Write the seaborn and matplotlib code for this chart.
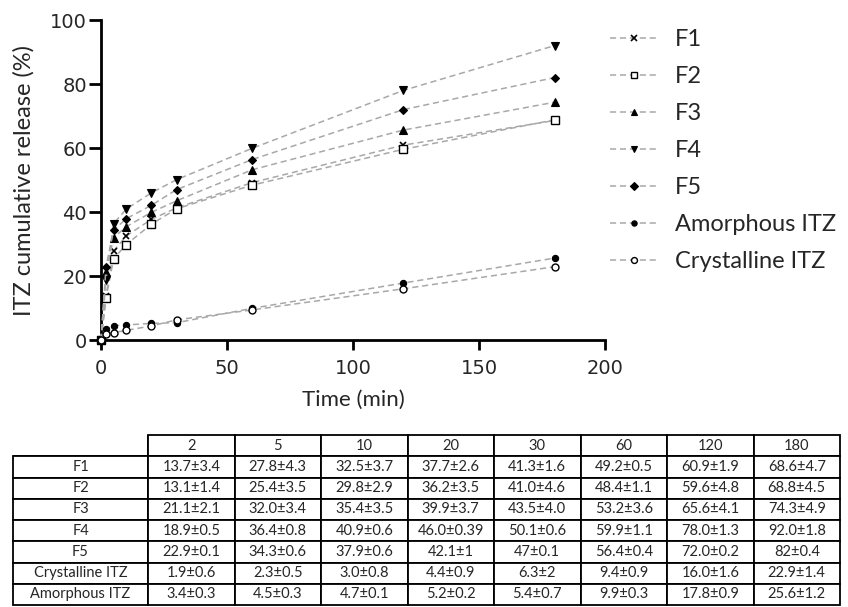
import matplotlib
matplotlib.use("Agg")
import matplotlib.pyplot as plt
import seaborn as sns
import pandas as pd
from matplotlib.lines import Line2D

# ---------------- data ----------------
times = [2, 5, 10, 20, 30, 60, 120, 180]
start_time = 0
start_release = 0.0

series_names = ["F1", "F2", "F3", "F4", "F5", "Amorphous ITZ", "Crystalline ITZ"]

F1_mean = ["13.7", "27.8", "32.5", "37.7", "41.3", "49.2", "60.9", "68.6"]
F1_sd = ["3.4", "4.3", "3.7", "2.6", "1.6", "0.5", "1.9", "4.7"]
F2_mean = ["13.1", "25.4", "29.8", "36.2", "41.0", "48.4", "59.6", "68.8"]
F2_sd = ["1.4", "3.5", "2.9", "3.5", "4.6", "1.1", "4.8", "4.5"]
F3_mean = ["21.1", "32.0", "35.4", "39.9", "43.5", "53.2", "65.6", "74.3"]
F3_sd = ["2.1", "3.4", "3.5", "3.7", "4.0", "3.6", "4.1", "4.9"]
F4_mean = ["18.9", "36.4", "40.9", "46.0", "50.1", "59.9", "78.0", "92.0"]
F4_sd = ["0.5", "0.8", "0.6", "0.39", "0.6", "1.1", "1.3", "1.8"]
F5_mean = ["22.9", "34.3", "37.9", "42.1", "47", "56.4", "72.0", "82"]
F5_sd = ["0.1", "0.6", "0.6", "1", "0.1", "0.4", "0.2", "0.4"]
Cry_mean = ["1.9", "2.3", "3.0", "4.4", "6.3", "9.4", "16.0", "22.9"]
Cry_sd = ["0.6", "0.5", "0.8", "0.9", "2", "0.9", "1.6", "1.4"]
Amo_mean = ["3.4", "4.5", "4.7", "5.2", "5.4", "9.9", "17.8", "25.6"]
Amo_sd = ["0.3", "0.3", "0.1", "0.2", "0.7", "0.3", "0.9", "1.2"]

plot_series = {
    "F1": F1_mean, "F2": F2_mean, "F3": F3_mean, "F4": F4_mean, "F5": F5_mean,
    "Amorphous ITZ": Amo_mean, "Crystalline ITZ": Cry_mean,
}
table_rows = [
    ("F1", F1_mean, F1_sd), ("F2", F2_mean, F2_sd), ("F3", F3_mean, F3_sd),
    ("F4", F4_mean, F4_sd), ("F5", F5_mean, F5_sd),
    ("Crystalline ITZ", Cry_mean, Cry_sd), ("Amorphous ITZ", Amo_mean, Amo_sd),
]

# ---------------- styling ----------------
sns.set_theme(style="ticks")
plt.rcParams["font.family"] = ["Lato", "DejaVu Sans"]

markers = {
    "F1": dict(marker="x", mfc="black", ms=4.5, mew=1.2),
    "F2": dict(marker="s", mfc="white", ms=5.5, mew=1.0),
    "F3": dict(marker="^", mfc="black", ms=5.5, mew=0.8),
    "F4": dict(marker="v", mfc="black", ms=5.5, mew=0.8),
    "F5": dict(marker="D", mfc="black", ms=4.5, mew=0.8),
    "Amorphous ITZ": dict(marker="o", mfc="black", ms=4.5, mew=0.8),
    "Crystalline ITZ": dict(marker="o", mfc="white", ms=5, mew=1.0),
}
line_color = "#a8a8a8"
dash = (0, (4, 2.5))

fig = plt.figure(figsize=(8.48, 6.07), dpi=100)
ax = fig.add_axes([101 / 848, 1 - 340 / 607, 504 / 848, 320 / 607])

rows = []
for name in series_names:
    rows.append({"time": start_time, "release": start_release, "series": name})
    for t, v in zip(times, plot_series[name]):
        rows.append({"time": t, "release": float(v), "series": name})
df = pd.DataFrame(rows)

handles = []
for name in series_names:
    sub = df[df["series"] == name]
    m = markers[name]
    sns.lineplot(data=sub, x="time", y="release", ax=ax, color=line_color,
                 linestyle=dash, linewidth=1.1, marker=m["marker"],
                 markerfacecolor=m["mfc"], markeredgecolor="black",
                 markersize=m["ms"], markeredgewidth=m["mew"],
                 clip_on=False, zorder=3, errorbar=None)
    handles.append(Line2D([], [], color=line_color, linestyle=dash,
                          linewidth=1.1, marker=m["marker"],
                          markerfacecolor=m["mfc"], markeredgecolor="black",
                          markersize=m["ms"] * 0.85, markeredgewidth=m["mew"]))

ax.set_xlim(0, 200)
ax.set_ylim(0, 100)
ax.set_xticks([0, 50, 100, 150, 200])
ax.set_yticks([0, 20, 40, 60, 80, 100])
for s in ["top", "right"]:
    ax.spines[s].set_visible(False)
for s in ["left", "bottom"]:
    ax.spines[s].set_linewidth(2)
    ax.spines[s].set_color("black")
ax.tick_params(axis="both", direction="out", width=2, color="black", labelsize=14)
ax.tick_params(axis="x", length=7, pad=7)
ax.tick_params(axis="y", length=9, pad=1)
for lab in ax.get_xticklabels() + ax.get_yticklabels():
    lab.set_family(["DejaVu Sans"])
ax.set_xlabel("Time (min)", fontsize=16, labelpad=8)
ax.set_ylabel("ITZ cumulative release (%)", fontsize=17, labelpad=11)

leg = ax.legend(handles, series_names, loc="upper left",
                bbox_to_anchor=(610 / 848, 1 - 29 / 607),
                bbox_transform=fig.transFigure, frameon=False, fontsize=17,
                handlelength=2.0, handletextpad=0.75, labelspacing=0.68,
                borderpad=0, borderaxespad=0)

# ---------------- table ----------------
tax = fig.add_axes([13 / 848, 1 - 605 / 607, 827 / 848, 170 / 607])
tax.axis("off")
cell_text = [[""] + [str(t) for t in times]]
for name, mean, sd in table_rows:
    cell_text.append([name] + [f"{a}\u00b1{b}" for a, b in zip(mean, sd)])
first_w = 135 / 827
other_w = (1 - first_w) / len(times)
tbl = tax.table(cellText=cell_text, cellLoc="center", bbox=[0, 0, 1, 1],
                colWidths=[first_w] + [other_w] * len(times))
tbl.auto_set_font_size(False)
for (r, c), cell in tbl.get_celld().items():
    cell.set_linewidth(1.3)
    cell.set_edgecolor("black")
    cell.get_text().set_fontsize(10.5)
    cell.get_text().set_family(["Lato", "DejaVu Sans"])
    if r == 0 and c == 0:
        cell.visible_edges = "BR"

fig.savefig("out.png", dpi=100)
